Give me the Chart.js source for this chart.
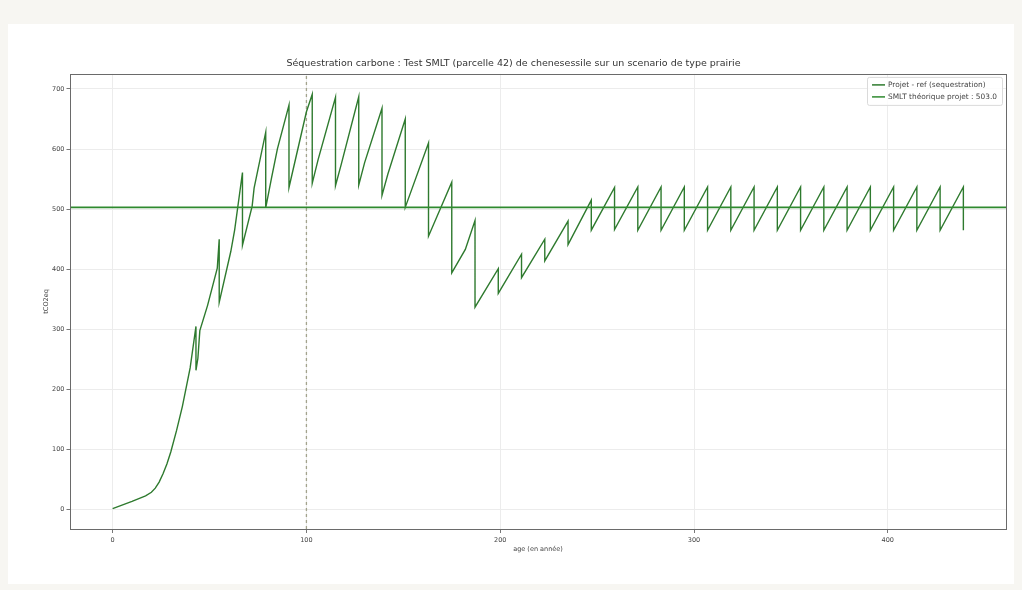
<!DOCTYPE html>
<html>
<head>
<meta charset="utf-8">
<script src="https://cdn.jsdelivr.net/npm/chart.js@4.4.1/dist/chart.umd.min.js"></script>
<style>
  html, body { margin: 0; padding: 0; background: #f7f6f2; }
  #wrap { position: absolute; left: 0; top: 0; width: 1022px; height: 590px; }
</style>
</head>
<body>
<div id="wrap"><canvas id="myChart" width="1022" height="590"></canvas></div>
<script>
const titleText = 'Séquestration carbone : Test SMLT (parcelle 42) de chenesessile sur un scenario de type prairie';
const xTitle = 'age (en année)';
const yTitle = 'tCO2eq';
const seqLabel = 'Projet - ref (sequestration)';
const smltLabel = 'SMLT théorique projet : 503.0';
const smltValue = 503.0;
const markAge = 100;

// polyline vertices (age, tCO2eq)
const ages = [
  0, 10, 17, 20, 22, 24, 26, 28, 30, 33, 36, 40, 43,
  43, 44, 45, 49, 54, 55,
  55, 61, 63, 67,
  67, 72, 73, 79,
  79, 82, 85, 91,
  91, 94, 100, 103,
  103, 106, 115,
  115, 118, 127,
  127, 130, 139,
  139, 142, 151,
  151, 163,
  163, 175,
  175, 182, 187,
  187, 199,
  199, 211,
  211, 223,
  223, 235,
  235, 247,
  247, 259,
  259, 271,
  271, 283,
  283, 295,
  295, 307,
  307, 319,
  319, 331,
  331, 343,
  343, 355,
  355, 367,
  367, 379,
  379, 391,
  391, 403,
  403, 415,
  415, 427,
  427, 439,
  439
];
const seq = [
  2, 14, 23, 29, 36, 46, 60, 76, 96, 132, 172, 236, 305,
  232, 252, 298, 340, 402, 450,
  345, 430, 466, 561,
  440, 505, 535, 628,
  502, 552, 600, 673,
  536, 578, 662, 691,
  543, 582, 686,
  539, 575, 687,
  540, 577, 668,
  523, 558, 650,
  503, 610,
  455, 545,
  394, 433, 481,
  337, 401,
  360, 425,
  386, 450,
  414, 480,
  441, 515,
  465, 536,
  466, 537,
  465, 537,
  465, 537,
  465, 537,
  465, 537,
  465, 537,
  465, 537,
  465, 537,
  465, 537,
  465, 537,
  465, 537,
  465, 537,
  465, 537,
  465, 537,
  465, 537,
  465
];

const xTicks = [0, 100, 200, 300, 400];
const yTicks = [0, 100, 200, 300, 400, 500, 600, 700];
const xRange = [-22, 461];
const yRange = [-32, 725];

Chart.defaults.font.family = "'DejaVu Sans', sans-serif";
Chart.defaults.color = '#333';

const panel = {
  id: 'panel',
  beforeDraw(chart) {
    const { ctx } = chart;
    ctx.save();
    ctx.fillStyle = '#ffffff';
    ctx.fillRect(8, 24, 1006, 560);
    ctx.restore();
  }
};

const frame = {
  id: 'frame',
  afterDatasetsDraw(chart) {
    const { ctx, chartArea: a } = chart;
    ctx.save();
    ctx.strokeStyle = '#6a6a6a';
    ctx.lineWidth = 1;
    ctx.strokeRect(Math.round(a.left) + 0.5, Math.round(a.top) + 0.5,
      Math.round(a.right - a.left), Math.round(a.bottom - a.top));
    ctx.restore();
  }
};

const boxLegend = {
  id: 'boxLegend',
  afterDraw(chart) {
    const { ctx, chartArea: a } = chart;
    const items = chart.data.datasets.filter(d => d.inLegend);
    ctx.save();
    ctx.font = "7.4px 'DejaVu Sans', sans-serif";
    const textW = Math.max(...items.map(d => ctx.measureText(d.label).width));
    const handle = 13, gap = 3, pad = 5, row = 12;
    const w = pad + handle + gap + textW + pad;
    const h = items.length * row + 4;
    const x = a.right - 4 - w;
    const y = a.top + 3;
    ctx.fillStyle = 'rgba(255,255,255,0.85)';
    ctx.strokeStyle = '#dadada';
    ctx.lineWidth = 1;
    ctx.beginPath();
    ctx.roundRect(x + 0.5, y + 0.5, w, h, 2);
    ctx.fill();
    ctx.stroke();
    items.forEach((d, i) => {
      const cy = y + 8 + i * row;
      ctx.strokeStyle = d.borderColor;
      ctx.lineWidth = 1.5;
      ctx.beginPath();
      ctx.moveTo(x + pad, cy);
      ctx.lineTo(x + pad + handle, cy);
      ctx.stroke();
      ctx.fillStyle = '#444';
      ctx.textBaseline = 'middle';
      ctx.fillText(d.label, x + pad + handle + gap, cy);
    });
    ctx.restore();
  }
};

new Chart(document.getElementById('myChart'), {
  type: 'line',
  data: {
    datasets: [
      {
        label: seqLabel,
        inLegend: true,
        data: ages.map((a, i) => ({ x: a, y: seq[i] })),
        borderColor: '#2e7a2e',
        borderWidth: 1.4,
        pointRadius: 0,
        tension: 0,
        order: 2
      },
      {
        label: smltLabel,
        inLegend: true,
        data: [{ x: xRange[0], y: smltValue }, { x: xRange[1], y: smltValue }],
        borderColor: '#2f8a2f',
        borderWidth: 1.6,
        pointRadius: 0,
        order: 1
      },
      {
        label: 'age ' + markAge,
        inLegend: false,
        data: [{ x: markAge, y: yRange[0] }, { x: markAge, y: yRange[1] }],
        borderColor: 'rgba(150,150,125,0.85)',
        borderDash: [3, 3],
        borderWidth: 1.3,
        pointRadius: 0,
        order: 3
      }
    ]
  },
  options: {
    responsive: false,
    animation: false,
    devicePixelRatio: 1,
    layout: { padding: { left: 21, right: 16, top: 0, bottom: 0 } },
    plugins: {
      legend: { display: false },
      tooltip: { enabled: false },
      title: {
        display: true,
        text: titleText,
        color: '#333',
        font: { size: 9.5, weight: 'normal' },
        padding: { top: 58, bottom: 4.5 }
      }
    },
    scales: {
      x: {
        type: 'linear',
        min: xRange[0],
        max: xRange[1],
        afterBuildTicks: s => { s.ticks = xTicks.map(v => ({ value: v })); },
        afterFit: s => { s.height = 61; },
        border: { display: false },
        grid: { color: '#ececec', lineWidth: 1, tickLength: 4, tickColor: '#777' },
        ticks: { font: { size: 6.5 }, padding: 3, color: '#444', maxRotation: 0 },
        title: { display: true, text: xTitle, font: { size: 6.5 }, color: '#444', padding: { top: 0, bottom: 37 } }
      },
      y: {
        min: yRange[0],
        max: yRange[1],
        afterBuildTicks: s => { s.ticks = yTicks.map(v => ({ value: v })); },
        afterFit: s => { s.width = 49; },
        border: { display: false },
        grid: { color: '#ececec', lineWidth: 1, tickLength: 3.5, tickColor: '#777' },
        ticks: { font: { size: 6.5 }, padding: 2, color: '#444' },
        title: { display: true, text: yTitle, font: { size: 6.5 }, color: '#444', padding: { top: 21, bottom: 0 } }
      }
    }
  },
  plugins: [panel, frame, boxLegend]
});
</script>
</body>
</html>
